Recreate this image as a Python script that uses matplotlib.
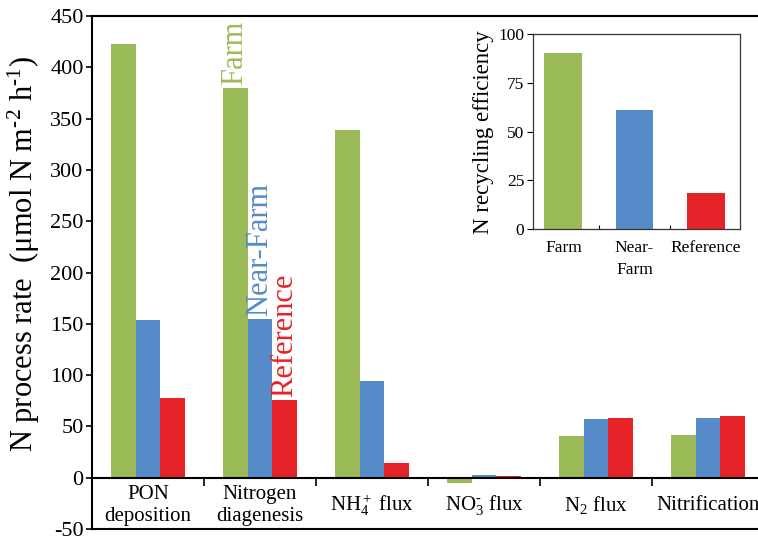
import matplotlib
matplotlib.use("Agg")
import matplotlib.pyplot as plt
import numpy as np

# main chart data (umol N m-2 h-1)
categories = ["PON\ndeposition", "Nitrogen\ndiagenesis", r"NH$_4^+$ flux",
              r"NO$_3^{\text{-}}$ flux", r"N$_2$ flux", "Nitrification"]
farm = [423, 380, 339, -5, 41, 42]
near_farm = [154, 155, 94, 3, 57, 58]
reference = [78, 76, 14, 2, 58.5, 60]

# inset data
inset_sites = ["Farm", "Near-\nFarm", "Reference"]
inset_eff = [90.3, 61, 18.4]

series_names = ["Farm", "Near-Farm", "Reference"]
colors = ["#9BBB59", "#558BC9", "#E52329"]

plt.rcParams["font.family"] = ["Liberation Serif", "DejaVu Serif"]
plt.rcParams["mathtext.fontset"] = "custom"
plt.rcParams["mathtext.rm"] = "Liberation Serif"
plt.rcParams["mathtext.it"] = "Liberation Serif:italic"
plt.rcParams["axes.unicode_minus"] = False

fig = plt.figure(figsize=(7.58, 5.4), dpi=100)
ax = fig.add_axes([92 / 758, 11 / 540, 672 / 758, 513 / 540])

x = np.arange(len(categories))
w = 0.223
for i, (vals, col) in enumerate(zip([farm, near_farm, reference], colors)):
    ax.bar(x + (i - 1) * w, vals, width=w, color=col, edgecolor="none", zorder=2)

ax.set_xlim(-0.5, len(categories) - 0.5)
ax.set_ylim(-50, 450)
ax.set_yticks(np.arange(-50, 451, 50))
ax.tick_params(axis="y", labelsize=16, direction="out", length=4, width=1.2, pad=2)

# x axis line sits at zero, ticks between the groups
ax.spines["bottom"].set_position(("data", 0))
ax.spines["bottom"].set_linewidth(1.5)
ax.set_xticks(x[:-1] + 0.5)
ax.set_xticklabels([])
ax.tick_params(axis="x", direction="out", length=6, width=1.2)
for s in ["left", "top", "right"]:
    ax.spines[s].set_linewidth(1.5)
ax.axhline(-50, color="black", lw=1.5, clip_on=False, zorder=5)

for xi, lab in zip(x, categories):
    ax.text(xi, -27, lab, ha="center", va="center", fontsize=15, linespacing=1.25)

ax.set_ylabel("N process rate  (\u03bcmol N m$^{\\text{-}2}$ h$^{\\text{-}1}$)", fontsize=22)
ax.yaxis.set_label_coords(-0.074, 0.535)

# series labels above the nitrogen diagenesis bars
gi = 1
for i, (vals, col, name) in enumerate(zip([farm, near_farm, reference], colors, series_names)):
    ax.text(gi + (i - 1) * w, vals[gi] + 3, name, rotation=90, ha="center", va="bottom",
            color=col, fontsize=22)

# inset: recycling efficiency
ins = fig.add_axes([532.7 / 758, 1 - 229 / 540, 207.3 / 758, 194.7 / 540])
xi = np.arange(len(inset_sites))
ins.bar(xi, inset_eff, width=0.53, color=colors, edgecolor="none")
ins.set_xlim(-0.43, 2.48)
ins.set_ylim(0, 100)
ins.set_yticks([0, 25, 50, 75, 100])
ins.set_xticks(xi)
ins.set_xticklabels(inset_sites, fontsize=12.5, linespacing=1.5, va="top")
ins.set_xticks(xi[:-1] + 0.5, minor=True)
ins.tick_params(axis="x", which="major", length=0, pad=8)
ins.tick_params(axis="x", which="minor", direction="in", length=3, width=0.8)
ins.tick_params(axis="y", labelsize=12.5, direction="out", length=4, width=0.8, pad=2)
for s in ins.spines.values():
    s.set_linewidth(0.9)
    s.set_color("#333333")
ins.set_ylabel("N recycling efficiency", fontsize=16.5, labelpad=3)

fig.savefig("out.png", dpi=100)
